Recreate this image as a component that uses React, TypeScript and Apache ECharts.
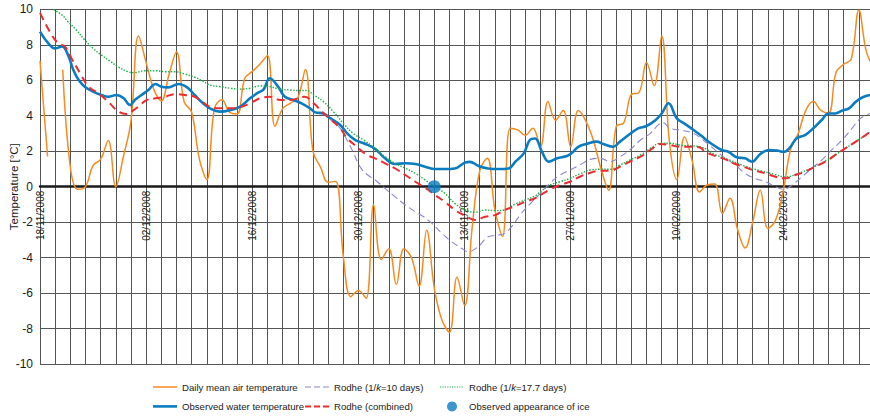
import React, { useEffect, useRef } from "react";
import * as echarts from "echarts";

// day 0 = 18/11/2008
const airDays = [0,1,2,3,4,5,6,7,8,9,10,11,12,13,14,15,16,17,18,19,20,21,22,23,24,25,26,27,28,29,30,31,32,33,34,35,36,37,38,39,40,41,42,43,44,45,46,47,48,49,50,51,52,53,54,55,56,57,58,59,60,61,62,63,64,65,66,67,68,69,70,71,72,73,74,75,76,77,78,79,80,81,82,83,84,85,86,87,88,89,90,91,92,93,94,95,96,97,98,99,100,101,102,103,104,105,106,107,108,109,110];
const airTemp: (number | null)[] = [7.1,1.7,null,6.6,1.1,-0.15,0.0,1.2,1.55,2.6,0.0,1.7,3.7,8.5,7.0,5.5,4.85,6.3,7.6,4.8,4.2,1.6,0.4,4.4,4.9,4.2,4.1,6.1,6.5,6.9,7.4,3.4,4.4,4.7,5.0,6.6,2.0,1.1,0.25,0.3,-3.9,-6.2,-5.85,-6.3,-1.0,-4.1,-3.5,-5.5,-3.5,-4.0,-5.6,-2.45,-5.7,-7.5,-8.2,-5.1,-6.7,-2.3,0.9,1.6,-1.3,-2.8,3.3,3.2,2.9,3.3,2.25,4.8,3.75,4.3,2.25,4.3,3.7,2.6,1.0,-0.2,3.4,3.6,5.2,5.3,7.0,5.7,8.5,2.6,0.4,2.8,1.5,-0.3,0.1,0.15,-1.5,-0.65,-2.4,-3.45,-2.0,-0.2,-2.35,-1.9,-0.3,2.1,3.0,4.3,4.8,4.3,4.15,6.45,6.9,7.2,9.95,7.6,6.7];

const waterDays = [0,1.1,2,2.9,3.7,4.4,5.1,5.9,7,8.1,9,10.1,11,11.9,12.5,13.4,14.3,15.2,16,16.9,18.3,19.4,20.4,21.5,22.4,23.7,25.1,26.4,27.7,28.6,29.5,30.3,31.4,32.3,33.4,34.5,35.6,36.3,37.4,38.3,39.6,40.5,41.6,42.7,44.2,45.5,46.8,48.2,49.5,50.8,52.1,53.4,54.7,56.1,56.7,57.8,59.1,60.5,61.8,62.7,63.8,64.6,65.3,66.2,67.1,68.2,69.5,70.1,71,72.1,73.4,74.3,75.6,76.5,77.8,78.9,80,81.2,82,82.9,84,85.1,86.2,87.1,88.6,89.9,90.8,91.9,93,93.9,95,96.1,97.2,98.1,98.9,99.8,100.9,102,103.1,104,104.9,105.8,106.7,107.6,108.5,109.5];
const waterTemp = [8.74,8.08,7.8,7.9,7.42,6.58,6.01,5.64,5.36,5.17,5.07,5.17,5.0,4.6,4.89,5.17,5.45,5.79,5.64,5.6,5.79,5.6,5.17,4.7,4.42,4.23,4.32,4.51,4.98,5.26,5.49,6.11,5.64,5.07,4.89,4.7,4.42,4.19,4.13,3.85,3.48,3.01,2.63,2.45,2.13,1.6,1.28,1.32,1.28,1.13,1.0,1.0,1.03,1.37,1.4,1.18,1.03,1.0,1.03,1.41,1.88,2.63,2.72,1.97,1.41,1.6,1.73,1.88,2.25,2.41,2.54,2.41,2.25,2.54,2.97,3.29,3.42,3.76,4.13,4.7,3.85,3.53,3.2,2.91,2.41,2.07,1.97,1.66,1.6,1.41,1.84,2.07,2.04,1.97,2.2,2.73,2.91,3.29,3.76,4.13,4.13,4.29,4.42,4.79,5.04,5.17];

const rodhe10Days = [37.2,38.3,39.6,40.5,41.3,42.2,43.1,44.2,45.5,46.8,48.2,49.5,50.6,51.7,53,54.3,55.6,56.5,57.8,59.1,60.5,61.3,62.2,63.5,64.9,66,67.3,68.6,69.9,71.2,72.6,73.9,75.2,76.5,77.8,79.2,80.5,81.8,82.2,83.1,84.4,86.2,87.7,89.1,90.4,91.7,93,94.3,95.7,97,98.1,99.2,100.5,101.8,103.1,104.4,105.8,107.1,108.2,109.5];
const rodhe10 = [4.23,3.8,3.29,2.63,1.95,1.13,0.7,0.38,-0.09,-0.56,-1.03,-1.41,-1.69,-2.07,-2.63,-3.1,-3.47,-3.66,-3.38,-2.82,-2.72,-2.63,-2.25,-1.5,-0.85,-0.37,0.22,0.66,0.94,1.22,1.54,1.6,1.41,1.69,2.07,2.63,3.01,3.57,3.6,3.29,3.2,3.0,2.55,2.05,1.6,1.22,0.75,0.47,0.28,0.0,-0.15,0.1,0.56,1.04,1.5,2.07,2.63,3.29,3.85,4.13];

const rodhe177Days = [1.8,2.9,3.7,4.8,5.9,7,8.1,9.2,10.3,11.6,12.5,13.8,15.2,16.5,17.8,19.1,20.4,21.5,22.4,23.7,25.1,26.4,27.7,29,30.3,31.7,33,34.3,35.2,36.1,37.4,38.7,40,41.3,42.7,44.2,45.5,46.8,48.2,49.5,50.8,52.1,53.4,54.7,56.1,57.4,58.7,60,61.3,62.7,64,65.3,66,67.3,68.6,69.9,71.2,72.6,73.9,75.2,76.5,77.8,79.2,80.5,81.8,83.1,84.4,85.8,87.1,89.1,91,93,95,97,98.3,100,102,104,106,108,109.5];
const rodhe177 = [9.98,9.68,9.3,8.83,8.27,7.8,7.42,7.09,6.76,6.48,6.43,6.54,6.54,6.48,6.48,6.35,6.17,5.95,5.73,5.64,5.55,5.5,5.55,5.68,5.64,5.5,5.45,5.42,5.42,5.17,4.79,4.23,3.57,3.01,2.63,2.16,1.69,1.32,1.04,0.75,0.38,0.0,-0.37,-0.94,-1.31,-1.44,-1.31,-1.35,-1.31,-0.97,-0.75,-0.52,-0.28,0.1,0.28,0.47,0.72,0.94,0.98,0.98,1.22,1.5,1.79,2.16,2.45,2.45,2.35,2.3,2.25,1.8,1.5,1.15,0.9,0.68,0.55,0.75,1.1,1.55,2.1,2.65,3.1];

const combinedDays = [0,1.3,2.4,3.3,4.2,5.3,6.4,7.9,9.2,10.3,11.4,12.3,13.2,14.1,15.2,16.5,17.8,19.1,20.4,21.5,22.4,23.7,25.1,26.4,27.7,29,30.3,31.7,33,34.9,36.1,37.2,38.3,39.6,40.5,41.8,43.1,44.2,45.5,46.8,48.2,49.5,50.8,52.1,53.4,54.7,56.1,57.4,58.7,60,61.3,62.7,64,65.3,66,67.3,68.6,69.9,71.2,72.6,73.9,75.2,76.5,77.8,79.2,80.5,81.8,83.1,84.4,85.8,87.1,87.7,89.1,90.4,91.7,93,94.3,95.7,97,98.3,99.6,100.9,102.2,103.6,104.9,106.2,107.6,108.9,109.5];
const combined = [9.8,8.74,8.08,7.9,7.2,6.39,5.64,5.2,4.7,4.25,4.1,4.3,4.6,4.89,4.98,5.07,5.22,5.17,5.07,4.75,4.51,4.42,4.42,4.48,4.7,4.98,5.07,4.89,4.89,5.07,4.7,4.23,3.8,3.29,2.73,2.25,1.79,1.6,1.32,1.04,0.66,0.28,-0.06,-0.47,-0.85,-1.31,-1.65,-1.88,-1.69,-1.6,-1.31,-1.09,-0.85,-0.65,-0.47,-0.15,0.1,0.28,0.56,0.79,0.9,0.9,1.13,1.41,1.69,2.07,2.41,2.35,2.25,2.25,2.2,1.97,1.73,1.54,1.28,1.09,0.9,0.75,0.56,0.47,0.66,0.85,1.13,1.41,1.79,2.16,2.54,2.91,3.1];

const iceDay = [52];
const iceTemp = [0];

const START = new Date(2008, 10, 18);
const pad = (n: number) => (n < 10 ? "0" + n : "" + n);
const dayLabel = (d: number) => {
  const dt = new Date(START.getFullYear(), START.getMonth(), START.getDate() + d);
  return pad(dt.getDate()) + "/" + pad(dt.getMonth() + 1) + "/" + dt.getFullYear();
};

const FONT = "'Liberation Sans', Arial, sans-serif";
const pairs = (xs: number[], ys: (number | null)[]) => xs.map((x, i) => [x, ys[i]]);

// legend icon paths (drawn as filled strips)
const solidIcon = (h: number) => `path://M0,0h24v${h}h-24z`;
const dashIcon = (dash: number, gap: number, h: number) => {
  let d = "";
  for (let x = 0; x < 24; x += dash + gap) d += `M${x},0h${Math.min(dash, 24 - x)}v${h}h-${Math.min(dash, 24 - x)}z`;
  return "path://" + d;
};

export default function App() {
  const ref = useRef<HTMLDivElement>(null);
  useEffect(() => {
    if (!ref.current) return;
    const chart = echarts.init(ref.current, undefined, { renderer: "svg" });
    const legendBase = {
      orient: "vertical" as const,
      top: 382,
      itemWidth: 24,
      itemHeight: 10,
      itemGap: 9.4,
      padding: 0,
      textStyle: {
        fontFamily: FONT,
        fontSize: 9.6,
        color: "#1a1a1a",
        rich: { i: { fontFamily: FONT, fontSize: 9.6, fontStyle: "italic", color: "#1a1a1a" } },
      },
      formatter: (n: string) => n.replace("1/k", "1/{i|k}"),
    };
    chart.setOption({
      animation: false,
      grid: { left: 40, top: 9.3, width: 834, height: 354.8, containLabel: false, outerBoundsMode: "none" },
      xAxis: {
        type: "value",
        min: 0,
        max: 110,
        interval: 2,
        position: "bottom",
        offset: -177.4,
        axisLine: { onZero: false, lineStyle: { color: "#1a1a1a", width: 2.5 } },
        axisTick: { show: false },
        axisLabel: {
          rotate: 90,
          margin: 4,
          fontFamily: FONT,
          fontSize: 10,
          color: "#1a1a1a",
          formatter: (v: number) => (Math.round(v) % 14 === 0 ? dayLabel(Math.round(v)) : ""),
        },
        splitLine: { show: true, lineStyle: { color: "#555", width: 1 } },
      },
      yAxis: {
        type: "value",
        min: -10,
        max: 10,
        interval: 2,
        name: "Temperature [°C]",
        nameLocation: "middle",
        nameGap: 20,
        nameMoveOverlap: false,
        nameTextStyle: { fontFamily: FONT, fontSize: 11.5, color: "#1a1a1a" },
        axisLine: { show: true, onZero: false, lineStyle: { color: "#555", width: 1 } },
        axisTick: { show: false },
        axisLabel: { fontFamily: FONT, fontSize: 12, color: "#1a1a1a", margin: 7 },
        splitLine: { show: true, lineStyle: { color: "#555", width: 1 } },
      },
      legend: [
        {
          ...legendBase,
          left: 153,
          data: [
            { name: "Daily mean air temperature", icon: solidIcon(1.5) },
            { name: "Observed water temperature", icon: solidIcon(2.6) },
          ],
        },
        {
          ...legendBase,
          left: 305,
          data: [
            { name: "Rodhe (1/k=10 days)", icon: dashIcon(6, 3, 1.2) },
            { name: "Rodhe (combined)", icon: dashIcon(6, 3, 2) },
          ],
        },
        {
          ...legendBase,
          left: 440,
          data: [
            { name: "Rodhe (1/k=17.7 days)", icon: dashIcon(1.2, 1.2, 1.2) },
            { name: "Observed appearance of ice", icon: "circle" },
          ],
        },
      ],
      series: [
        {
          name: "Daily mean air temperature",
          type: "line",
          data: pairs(airDays, airTemp),
          smooth: 0.4,
          connectNulls: false,
          symbol: "none",
          lineStyle: { color: "#f68b1f", width: 1.5 },
          itemStyle: { color: "#f68b1f" },
          z: 2,
        },
        {
          name: "Observed water temperature",
          type: "line",
          data: pairs(waterDays, waterTemp),
          smooth: 0.4,
          symbol: "none",
          lineStyle: { color: "#0a7cc1", width: 2.6 },
          itemStyle: { color: "#0a7cc1" },
          z: 3,
        },
        {
          name: "Rodhe (1/k=10 days)",
          type: "line",
          data: pairs(rodhe10Days, rodhe10),
          smooth: 0.4,
          symbol: "none",
          lineStyle: { color: "#8c86c8", width: 1.1, type: [7, 4] },
          itemStyle: { color: "#8c86c8" },
          z: 4,
        },
        {
          name: "Rodhe (1/k=17.7 days)",
          type: "line",
          data: pairs(rodhe177Days, rodhe177),
          smooth: 0.4,
          symbol: "none",
          lineStyle: { color: "#1fae4b", width: 1.4, type: [1.5, 1.5] },
          itemStyle: { color: "#1fae4b" },
          z: 4,
        },
        {
          name: "Rodhe (combined)",
          type: "line",
          data: pairs(combinedDays, combined),
          smooth: 0.4,
          symbol: "none",
          lineStyle: { color: "#ee2a2e", width: 2, type: [8, 5] },
          itemStyle: { color: "#ee2a2e" },
          z: 5,
        },
        {
          name: "Observed appearance of ice",
          type: "scatter",
          data: pairs(iceDay, iceTemp),
          symbol: "circle",
          symbolSize: 13,
          itemStyle: { color: "#0a7cc1" },
          z: 6,
        },
      ],
    });
    return () => chart.dispose();
  }, []);
  return <div ref={ref} style={{ position: "absolute", left: 0, top: 0, width: 870, height: 417 }} />;
}
